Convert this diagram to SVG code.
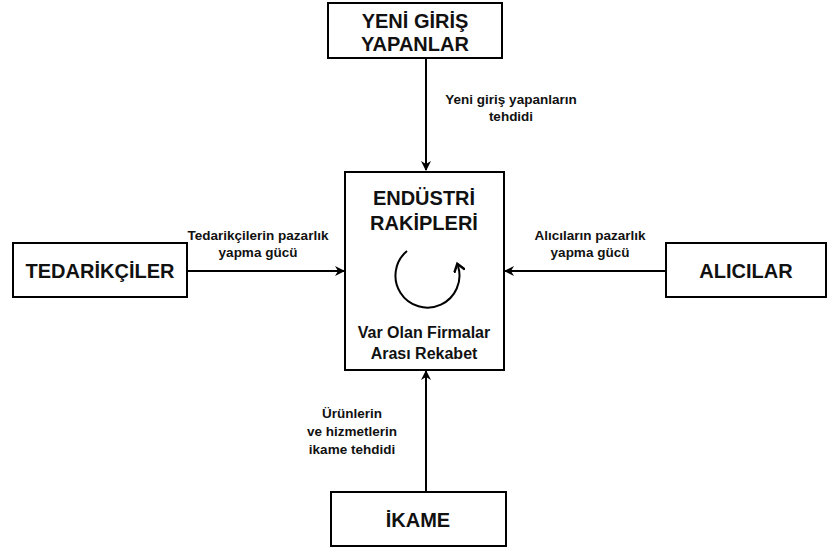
<svg xmlns="http://www.w3.org/2000/svg" width="830" height="550" viewBox="0 0 830 550">
  <style>
    .box { fill: #fff; stroke: #000; stroke-width: 2; }
    .big { font-family: "Liberation Sans", Arial, sans-serif; font-weight: bold; font-size: 20px; fill: #111; text-anchor: middle; }
    .mid { font-family: "Liberation Sans", Arial, sans-serif; font-weight: bold; font-size: 16px; fill: #111; text-anchor: middle; }
    .lbl { font-family: "Liberation Sans", Arial, sans-serif; font-weight: bold; font-size: 13.5px; fill: #111; text-anchor: middle; }
    .wire { stroke: #000; stroke-width: 2; fill: none; marker-end: url(#head); }
  </style>
  <defs>
    <marker id="head" viewBox="0 0 10 10" refX="9" refY="5" markerWidth="5" markerHeight="5" orient="auto" markerUnits="strokeWidth">
      <path d="M0,0 L10,5 L0,10 L3,5 Z" fill="#000"/>
    </marker>
    <marker id="curl" viewBox="0 0 10 10" refX="5" refY="5" markerWidth="6" markerHeight="6" orient="auto" markerUnits="strokeWidth">
      <path d="M0,0 L7,5 L0,10" fill="none" stroke="#000" stroke-width="2"/>
    </marker>
  </defs>

  <rect width="830" height="550" fill="#fff"/>

  <g id="connectors">
    <line class="wire" x1="426" y1="58" x2="426" y2="170"/>
    <line class="wire" x1="187" y1="271" x2="344" y2="271"/>
    <line class="wire" x1="666" y1="271" x2="505" y2="271"/>
    <line class="wire" x1="426" y1="492" x2="426" y2="371"/>
    <text class="lbl" x="511" y="104">Yeni giriş yapanların</text>
    <text class="lbl" x="511" y="121">tehdidi</text>
    <text class="lbl" x="258" y="240">Tedarikçilerin pazarlık</text>
    <text class="lbl" x="258" y="257">yapma gücü</text>
    <text class="lbl" x="590" y="240">Alıcıların pazarlık</text>
    <text class="lbl" x="590" y="257">yapma gücü</text>
    <text class="lbl" x="352" y="418">Ürünlerin</text>
    <text class="lbl" x="352" y="436">ve hizmetlerin</text>
    <text class="lbl" x="352" y="454">ikame tehdidi</text>
  </g>

  <g id="yeni-giris">
    <rect class="box" x="328" y="3" width="174" height="55"/>
    <text class="big" x="415" y="28">YENİ GİRİŞ</text>
    <text class="big" x="415" y="51">YAPANLAR</text>
  </g>

  <g id="endustri-rakipleri">
    <rect class="box" x="345" y="172" width="159" height="198"/>
    <text class="big" x="424" y="205">ENDÜSTRİ</text>
    <text class="big" x="424" y="230">RAKİPLERİ</text>
    <path d="M407,251 A32,32 0 1,0 458,266" fill="none" stroke="#000" stroke-width="2" marker-end="url(#curl)"/>
    <text class="mid" x="424" y="338">Var Olan Firmalar</text>
    <text class="mid" x="424" y="359">Arası Rekabet</text>
  </g>

  <g id="tedarikciler">
    <rect class="box" x="13" y="243" width="174" height="54"/>
    <text class="big" x="100" y="278">TEDARİKÇİLER</text>
  </g>

  <g id="alicilar">
    <rect class="box" x="666" y="243" width="160" height="54"/>
    <text class="big" x="746" y="278">ALICILAR</text>
  </g>

  <g id="ikame">
    <rect class="box" x="331" y="492" width="175" height="54"/>
    <text class="big" x="418" y="527">İKAME</text>
  </g>
</svg>
